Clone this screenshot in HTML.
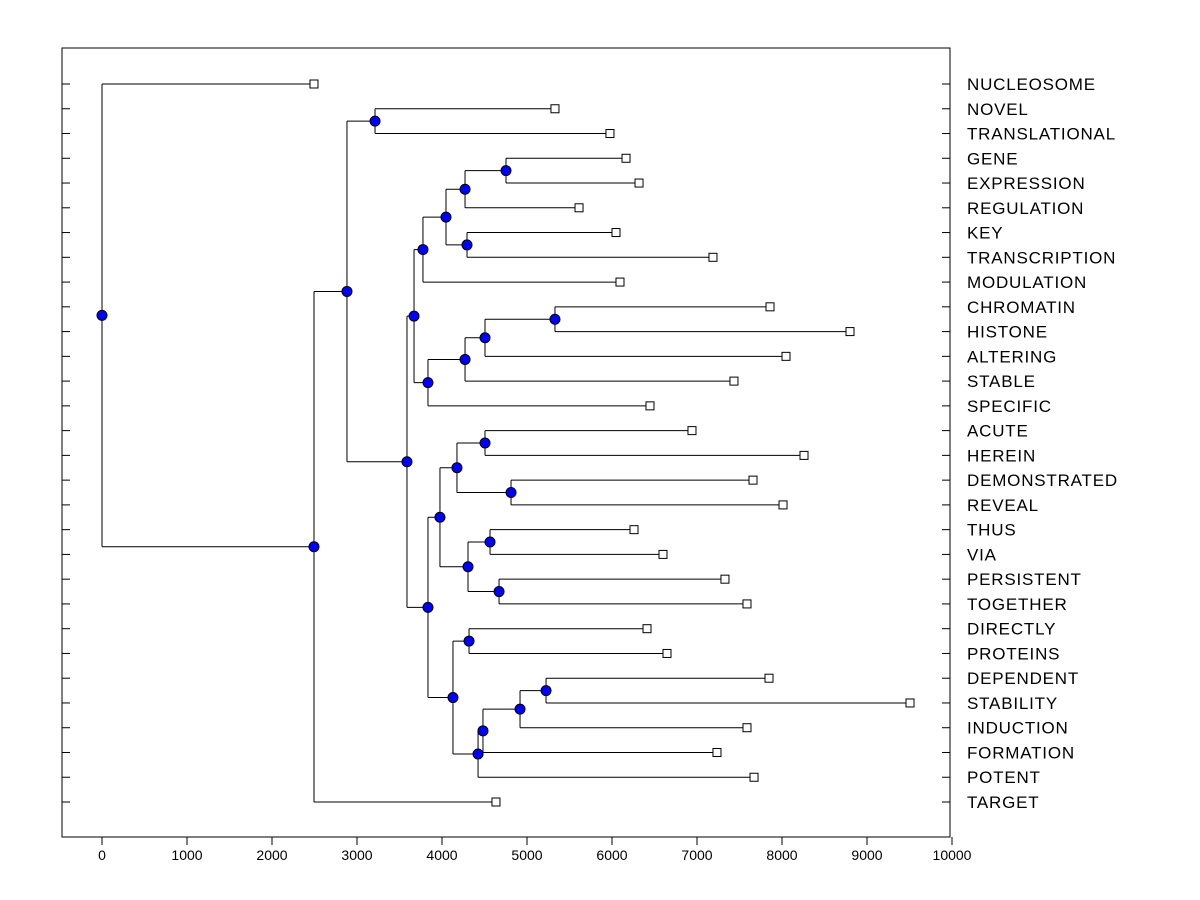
<!DOCTYPE html>
<html><head><meta charset="utf-8"><style>
html,body{margin:0;padding:0;background:#fff;}
svg{display:block;font-family:"Liberation Sans",Arial,sans-serif;}
</style></head><body>
<svg id="chart" width="1200" height="900" viewBox="0 0 1200 900">
<rect x="62" y="48" width="888" height="789" fill="none" stroke="#000" stroke-width="1"/>
<g id="marks"></g>
</svg>
<script>
const leaves = ["NUCLEOSOME","NOVEL","TRANSLATIONAL","GENE","EXPRESSION","REGULATION","KEY","TRANSCRIPTION","MODULATION","CHROMATIN","HISTONE","ALTERING","STABLE","SPECIFIC","ACUTE","HEREIN","DEMONSTRATED","REVEAL","THUS","VIA","PERSISTENT","TOGETHER","DIRECTLY","PROTEINS","DEPENDENT","STABILITY","INDUCTION","FORMATION","POTENT","TARGET"];
const leafValues = [2494,5329,5976,6165,6318,5612,6047,7188,6094,7859,8800,8047,7435,6447,6941,8259,7659,8012,6259,6600,7329,7588,6412,6647,7847,9506,7588,7235,7671,4635];
const mergeLeft  = [1,3,31,6,32,34,9,36,37,38,35,14,16,41,18,20,44,43,22,24,49,50,51,48,47,40,30,56,0];
const mergeRight = [2,4,5,7,33,8,10,11,12,13,39,15,17,42,19,21,45,46,23,25,26,27,28,52,53,54,55,29,57];
const mergeHeight= [3212,4753,4271,4294,4047,3776,5329,4506,4271,3835,3671,4506,4812,4176,4565,4671,4306,3976,4318,5224,4918,4482,4424,4129,3835,3588,2882,2494,0];
const xTicks = [0,1000,2000,3000,4000,5000,6000,7000,8000,9000,10000];

const NS="http://www.w3.org/2000/svg";
const g=document.getElementById('marks');
const xs=v=>102+v*0.085;
const ys=i=>84+i*(718/29);
function el(tag,attrs,parent){const e=document.createElementNS(NS,tag);for(const k in attrs)e.setAttribute(k,attrs[k]);(parent||g).appendChild(e);return e;}

xTicks.forEach(t=>{
  const l=el('line',{x1:xs(t),x2:xs(t),y1:837,y2:845,stroke:'#000'});
  
  
  const tx=el('text',{x:xs(t),y:860,'font-size':14,'text-anchor':'middle'});
  tx.textContent=t;
  
  
});
leaves.forEach((n,i)=>{
  const y=ys(i);
  const a=el('line',{x1:62,x2:70,y1:y,y2:y,stroke:'#000'});
  
  
  const b=el('line',{x1:942,x2:950,y1:y,y2:y,stroke:'#000'});
  
  
  const t=el('text',{x:967,y:y+6,'font-size':17,'letter-spacing':0.8});
  t.textContent=n;
  
  
});

const nx=[],ny=[];
leaves.forEach((n,i)=>{nx[i]=xs(leafValues[i]);ny[i]=ys(i);});
mergeHeight.forEach((h,k)=>{const id=leaves.length+k;nx[id]=xs(h);ny[id]=(ny[mergeLeft[k]]+ny[mergeRight[k]])/2;});

const lines=el('g',{});
mergeHeight.forEach((h,k)=>{
  const x=xs(h),a=mergeLeft[k],b=mergeRight[k];
  const v=el('line',{x1:x,x2:x,y1:ny[a],y2:ny[b],stroke:'#000'},lines);
  
  
  [a,b].forEach(c=>{
    const hl=el('line',{x1:x,x2:nx[c],y1:ny[c],y2:ny[c],stroke:'#000'},lines);
    
    
  });
});
leaves.forEach((n,i)=>{
  const r=el('rect',{x:nx[i]-4,y:ny[i]-4,width:8,height:8,fill:'#fff',stroke:'#000'});
  
  
});
mergeHeight.forEach((h,k)=>{
  const id=leaves.length+k;
  const c=el('circle',{cx:nx[id],cy:ny[id],r:5,fill:'#0000ff',stroke:'#000'});
  
  
});
</script>
</body></html>
